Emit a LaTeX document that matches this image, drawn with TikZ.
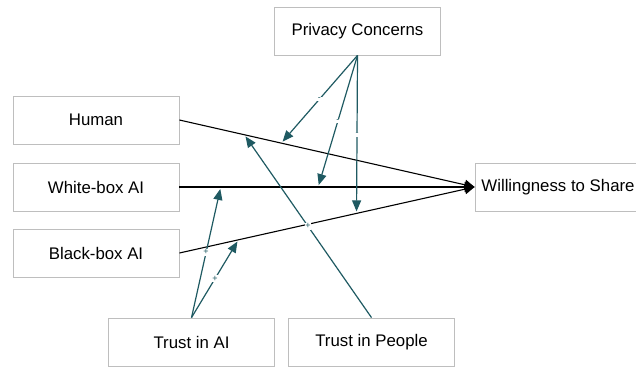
\documentclass[tikz,border=0pt]{standalone}
\usepackage{fontspec}
\setmainfont{Liberation Sans}
\usetikzlibrary{arrows.meta}
\definecolor{boxgray}{HTML}{BEBEBE}
\definecolor{modteal}{HTML}{1F5A62}
\begin{document}
\begin{tikzpicture}[x=1pt,y=-1pt,
    box/.style={draw=boxgray, line width=0.8pt, minimum width=166pt, minimum height=48pt,
        inner sep=0pt, font=\fontsize{16.8}{20}\selectfont},
    main/.style={line width=1.1pt, -{Triangle[length=10pt,width=10pt]}},
    mod/.style={draw=modteal, line width=1.2pt, shorten >=2pt,
        -{Triangle[length=11pt,width=9pt]}},
    sign/.style={midway, fill=white, inner sep=0.8pt, text=modteal,
        font=\fontsize{9}{9}\selectfont}]
    \useasboundingbox (0,0) rectangle (636,367);

    \node[box] (privacy) at (357.5,31) {Privacy Concerns};
    \node[box] (human) at (96,120) {Human};
    \node[box] (whitebox) at (96,187) {White-box AI};
    \node[box] (blackbox) at (96,253) {Black-box AI};
    \node[box] (willing) at (558,187) {Willingness to Share};
    \node[box] (trustai) at (191.5,342) {Trust in AI};
    \node[box] (trustpeople) at (371.5,342) {Trust in People};

    % direct effects
    \draw[main] (human.east) -- (willing.west)
        coordinate[pos=0.22] (humanP) coordinate[pos=0.345] (humanC);
    \draw[main] (whitebox.east) -- (willing.west)
        coordinate[pos=0.14] (whiteT) coordinate[pos=0.47] (whiteC);
    \draw[main] (blackbox.east) -- (willing.west)
        coordinate[pos=0.2] (blackT) coordinate[pos=0.6] (blackC);

    % moderators
    \draw[mod] (privacy.south) -- (humanC) node[sign] {-};
    \draw[mod] (privacy.south) -- (whiteC) node[sign] {-};
    \draw[mod] (privacy.south) -- (blackC) node[sign] {-};
    \draw[mod] (trustai.north) -- (whiteT) node[sign] {+};
    \draw[mod] (trustai.north) -- (blackT) node[sign] {+};
    \draw[mod] (trustpeople.north) -- (humanP) node[sign] {+};
\end{tikzpicture}
\end{document}
